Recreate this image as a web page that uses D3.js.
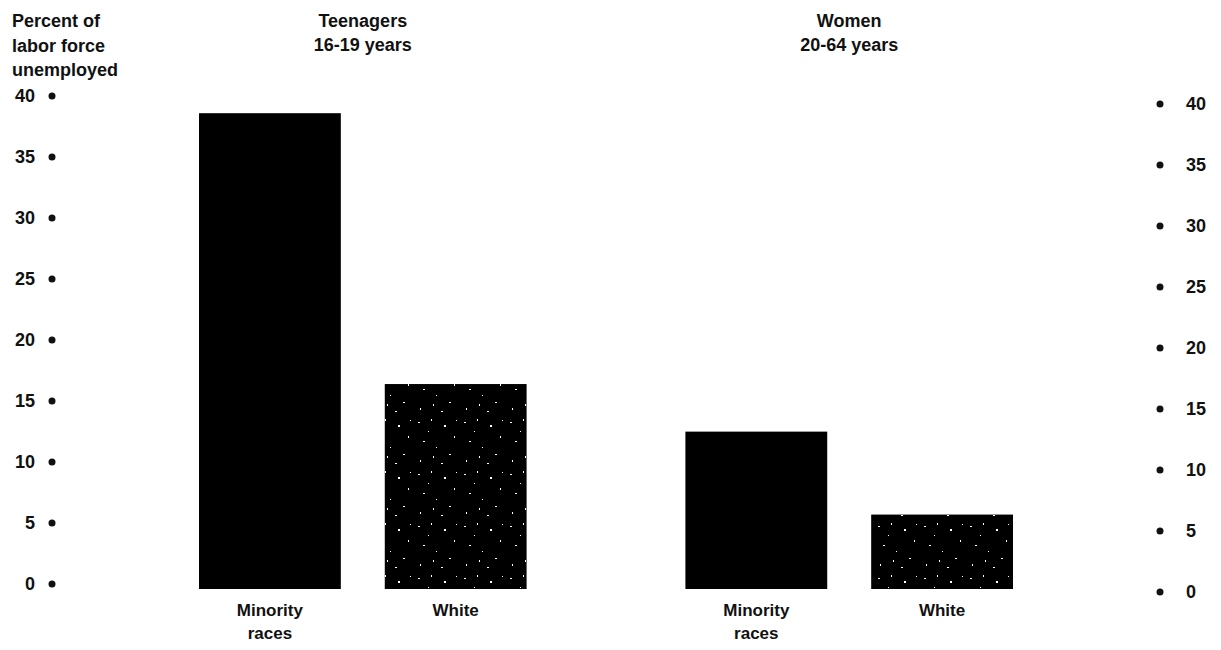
<!DOCTYPE html>
<html>
<head>
<meta charset="utf-8">
<script src="https://cdn.jsdelivr.net/npm/d3@7"></script>
<style>
  html, body { margin: 0; padding: 0; background: #fff; }
  svg text { font-family: 'Liberation Sans', Arial, sans-serif; font-weight: bold; fill: #111; }
</style>
</head>
<body>
<div id="container"></div>
<script>
var groups = ['Teenagers', 'Women'],
  groupTitles = [['Teenagers', '16-19 years'], ['Women', '20-64 years']],
  races = ['Minority', 'White'],
  raceLabels = [['Minority', 'races'], ['White']],
  minorityValues = [39.0, 12.9],
  whiteValues = [16.8, 6.1],
  tickValues = [0, 5, 10, 15, 20, 25, 30, 35, 40],
  axisTitle = ['Percent of', 'labor force', 'unemployed'];

(function(){
var _width = 1221, _height = 650,
  svg = d3.select('#container').append('svg')
    .attr('width', _width).attr('height', _height),
  y = d3.scaleLinear().domain([0, 40]).range([589, 101]),
  x0 = d3.scaleBand().domain(groups).range([199, 1013]).paddingInner(0.3265),
  x1 = d3.scaleBand().domain(races).range([0, x0.bandwidth()]).paddingInner(0.2366),
  rows = [],
  addPattern = function(){
    // speckled fill for the white bars (fixed specks, scanned look)
    var p = svg.append('defs').append('pattern')
      .attr('id', 'speck').attr('patternUnits', 'userSpaceOnUse')
      .attr('width', 46).attr('height', 52);
    p.append('rect').attr('width', 46).attr('height', 52).attr('fill', '#000');
    [[4,6,2,1],[17,3,1,2],[30,9,2,2],[40,20,1,2],[9,25,2,1],[22,31,1,1],
     [35,38,2,1],[6,44,1,2],[27,47,2,1],[14,15,1,1],[42,4,1,1],[19,40,1,2]]
      .forEach(function(s){
        p.append('rect').attr('x', s[0]).attr('y', s[1])
          .attr('width', s[2]).attr('height', s[3]).attr('fill', '#fff');
      });
  },
  drawAxis = function(side){
    var left = side === 'left',
      g = svg.append('g').attr('transform', 'translate(0,' + (left ? -5 : 3) + ')');
    tickValues.forEach(function(v){
      g.append('circle').attr('cx', left ? 52 : 1160).attr('cy', y(v)).attr('r', 3.5).attr('fill', '#111');
      g.append('text').attr('x', left ? 35 : 1186).attr('y', y(v)).attr('dy', '0.36em')
        .attr('text-anchor', left ? 'end' : 'start')
        .style('font-size', '18px').text(v);
    });
  };

addPattern();

groups.forEach(function(gr, i){
  rows.push({group: gr, race: 'Minority', value: minorityValues[i]});
  rows.push({group: gr, race: 'White', value: whiteValues[i]});
});

svg.append('g').selectAll('rect').data(rows).enter().append('rect')
  .attr('x', function(d){ return x0(d.group) + x1(d.race); })
  .attr('y', function(d){ return y(d.value); })
  .attr('width', x1.bandwidth())
  .attr('height', function(d){ return y(0) - y(d.value); })
  .attr('fill', function(d){ return d.race === 'White' ? 'url(#speck)' : '#000'; });

// category labels under the bars
groups.forEach(function(gr){
  races.forEach(function(r, j){
    var cx = x0(gr) + x1(r) + x1.bandwidth() / 2,
      t = svg.append('text').attr('text-anchor', 'middle').style('font-size', '17px').attr('y', 616);
    raceLabels[j].forEach(function(line, k){
      t.append('tspan').attr('x', cx).attr('dy', k ? 23 : 0).text(line);
    });
  });
});

// group titles
groups.forEach(function(gr, i){
  var cx = x0(gr) + x0.bandwidth() / 2,
    t = svg.append('text').attr('text-anchor', 'middle').style('font-size', '18px').attr('y', 27);
  groupTitles[i].forEach(function(line, k){
    t.append('tspan').attr('x', cx).attr('dy', k ? 24 : 0).text(line);
  });
});

// axis title
var at = svg.append('text').style('font-size', '18px').attr('y', 27);
axisTitle.forEach(function(line, k){
  at.append('tspan').attr('x', 12).attr('dy', k ? 24.5 : 0).text(line);
});

drawAxis('left');
drawAxis('right');
})();
</script>
</body>
</html>
